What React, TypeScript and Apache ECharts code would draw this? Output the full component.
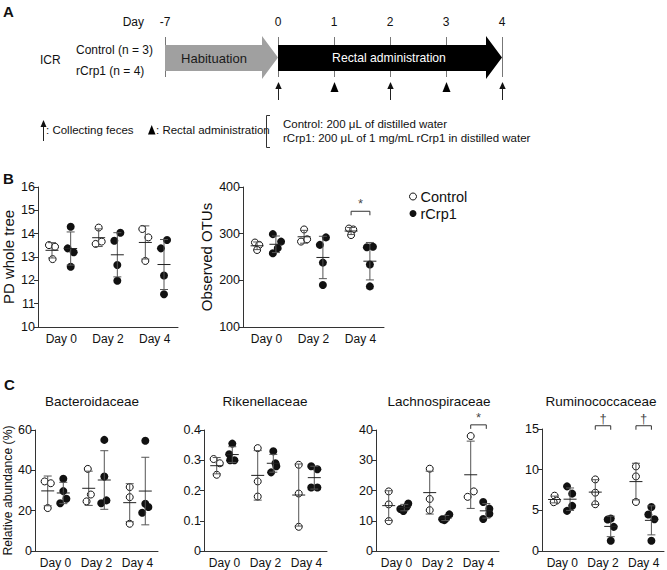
import React, { useEffect, useRef } from "react";
import * as echarts from "echarts";

const FONT = "'Liberation Sans', Arial, sans-serif";
const INK = "#111";
const AXIS = "#333";
const BAR = "#555";

// ---------- data ----------
const DAYS = ["Day 0", "Day 2", "Day 4"];
const GROUPS = ["Control", "rCrp1"];

// Panel B: PD whole tree
const pdControl = [[13.51, 13.44, 12.91], [14.26, 13.56, 13.66], [14.2, 13.84, 12.83]];
const pdRcrp1 = [[14.3, 13.37, 13.2, 12.58], [13.7, 14.04, 12.66, 11.98], [13.37, 13.73, 12.21, 11.4]];
// Panel B: Observed OTUs
const otuControl = [[281, 276, 265], [309, 283, 288], [311, 309, 297]];
const otuRcrp1 = [[299, 283, 269, 258], [292, 276, 238, 190], [271, 272, 234, 187]];
// Panel C
const bacControl = [[34.5, 33.6, 21.3], [40.7, 28.0, 24.6], [31.7, 26.7, 13.5]];
const bacRcrp1 = [[35.8, 29.7, 23.7, 25.9], [55.1, 36.9, 23.7, 25.1], [54.7, 23.4, 21.8, 19.0]];
const rikControl = [[0.304, 0.29, 0.252], [0.34, 0.23, 0.18], [0.285, 0.19, 0.08]];
const rikRcrp1 = [[0.355, 0.32, 0.3, 0.3], [0.33, 0.29, 0.28, 0.26], [0.28, 0.27, 0.21, 0.21]];
const lacControl = [[19.7, 15.4, 9.9], [27.2, 17.2, 13.5], [38.0, 17.9, 19.7]];
const lacRcrp1 = [[13.9, 13.2, 14.6, 15.7], [10.5, 10.2, 10.8, 12.1], [16.2, 14.0, 12.3, 10.6]];
const rumControl = [[6.8, 6.2, 6.0], [8.8, 7.17, 5.75], [10.4, 9.17, 6.03]];
const rumRcrp1 = [[7.95, 7.05, 5.55, 4.93], [3.87, 4.0, 2.97, 1.26], [5.42, 4.48, 3.91, 1.26]];

// horizontal jitter of the individual points (in jitter steps)
const pdJitC = [[-1, 1, 0.2], [0, -1, 1], [-1, 1, 0]];
const pdJitR = [[0, -1, 1, 0], [-1, 1, 0, 0], [-1, 1, 0, 0]];
const otuJitC = [[-0.7, 0.7, 0], [0, -1, 1], [-0.7, 0.7, 0]];
const otuJitR = [[-1, 1.7, 0.6, -1], [1, -1, 0, 0], [-1, 1, 0, 0]];
const bacJitC = [[-1, 1, 0], [-0.3, 0.7, -0.7], [0, 0, 0]];
const bacJitR = [[0, 0, -1, 1], [0, 0, -1, 0.7], [0, 0, 1, -1]];
const rikJitC = [[-1, 1, 0], [0, 0, 0], [0, 0, 0]];
const rikJitR = [[0, -1, -0.7, 0.7], [0, 0.7, 1, -0.7], [-1, 1, -1, 1]];
const lacJitC = [[0, 0, 0], [0, 0, 0], [0, -1, 1]];
const lacJitR = [[-1.3, -0.3, 0.7, 1.3], [-1, -0.3, 0.3, 1.3], [-1, 1, 1, -1]];
const rumJitC = [[0, 0.7, -0.3], [0, 0, 0], [0, 0, 0]];
const rumJitR = [[-1, 0.7, 0.7, -1], [-1, 0, 1, 0], [0, -1, 1, 0]];

// significance marks: [day index, bracket level, symbol]
const otuMarks: [number, number, string][] = [[2, 348, "*"]];
const lacMarks: [number, number, string][] = [[2, 41.7, "*"]];
const rumMarks: [number, number, string][] = [[1, 15.4, "\u2020"], [2, 15.4, "\u2020"]];

// Panel A timeline
const TIMELINE_DAYS = ["-7", "0", "1", "2", "3", "4"];
const COLLECT_DAYS = ["0", "2", "4"];
const ADMIN_DAYS = ["1", "3"];

// ---------- helpers ----------
const mean = (a: number[]) => a.reduce((s, v) => s + v, 0) / a.length;
const sd = (a: number[]) => {
  const m = mean(a);
  return Math.sqrt(a.reduce((s, v) => s + (v - m) * (v - m), 0) / (a.length - 1));
};

type Panel = {
  grid: any;
  yMin: number;
  yMax: number;
  yInterval: number;
  control: number[][];
  rcrp1: number[][];
  jitC: number[][];
  jitR: number[][];
  offset: number;
  jitUnit: number;
  yName?: string;
  nameGap?: number;
  nameSize?: number;
  marks?: [number, number, string][];
};

const panels: Panel[] = [
  { grid: { left: 38, top: 187, width: 140, height: 140 }, yMin: 10, yMax: 16, yInterval: 1, control: pdControl, rcrp1: pdRcrp1, jitC: pdJitC, jitR: pdJitR, offset: 0.2, jitUnit: 0.065, yName: "PD whole tree", nameGap: 22, nameSize: 15 },
  { grid: { left: 243, top: 187, width: 141, height: 140 }, yMin: 100, yMax: 400, yInterval: 100, control: otuControl, rcrp1: otuRcrp1, jitC: otuJitC, jitR: otuJitR, offset: 0.2, jitUnit: 0.065, yName: "Observed OTUs", nameGap: 29, nameSize: 15, marks: otuMarks },
  { grid: { left: 35, top: 430, width: 123, height: 121 }, yMin: 0, yMax: 60, yInterval: 20, control: bacControl, rcrp1: bacRcrp1, jitC: bacJitC, jitR: bacJitR, offset: 0.19, jitUnit: 0.075, yName: "Relative abundance (%)", nameGap: 19, nameSize: 12.2 },
  { grid: { left: 204, top: 430, width: 123, height: 121 }, yMin: 0, yMax: 0.4, yInterval: 0.1, control: rikControl, rcrp1: rikRcrp1, jitC: rikJitC, jitR: rikJitR, offset: 0.19, jitUnit: 0.075 },
  { grid: { left: 376, top: 430, width: 123, height: 121 }, yMin: 0, yMax: 40, yInterval: 10, control: lacControl, rcrp1: lacRcrp1, jitC: lacJitC, jitR: lacJitR, offset: 0.19, jitUnit: 0.075, marks: lacMarks },
  { grid: { left: 542, top: 429, width: 122, height: 122 }, yMin: 0, yMax: 15, yInterval: 5, control: rumControl, rcrp1: rumRcrp1, jitC: rumJitC, jitR: rumJitR, offset: 0.19, jitUnit: 0.075, marks: rumMarks },
];

const C_TITLES = ["Bacteroidaceae", "Rikenellaceae", "Lachnospiraceae", "Ruminococcaceae"];
const C_TITLE_X = [92, 265, 439, 601];

function errorRender(params: any, api: any) {
  const x = api.value(0);
  const m = api.value(1);
  const s = api.value(2);
  const top = api.coord([x, m + s]);
  const bot = api.coord([x, m - s]);
  const mid = api.coord([x, m]);
  const st = { stroke: BAR, lineWidth: 1 };
  return {
    type: "group",
    children: [
      { type: "line", shape: { x1: top[0], y1: top[1], x2: bot[0], y2: bot[1] }, style: st },
      { type: "line", shape: { x1: top[0] - 4, y1: top[1], x2: top[0] + 4, y2: top[1] }, style: st },
      { type: "line", shape: { x1: bot[0] - 4, y1: bot[1], x2: bot[0] + 4, y2: bot[1] }, style: st },
      { type: "line", shape: { x1: mid[0] - 6.5, y1: mid[1], x2: mid[0] + 6.5, y2: mid[1] }, style: { stroke: "#222", lineWidth: 1 } },
    ],
  };
}

function bracketRender(params: any, api: any) {
  const a = api.coord([api.value(0), api.value(2)]);
  const b = api.coord([api.value(1), api.value(2)]);
  return {
    type: "polyline",
    shape: { points: [[a[0], a[1] + 4], [a[0], a[1]], [b[0], b[1]], [b[0], b[1] + 4]] },
    style: { stroke: AXIS, lineWidth: 1, fill: null },
  };
}

function buildOption() {
  const grid: any[] = [];
  const xAxis: any[] = [];
  const yAxis: any[] = [];
  const series: any[] = [];

  panels.forEach((p, gi) => {
    grid.push({ ...p.grid, containLabel: false, outerBoundsMode: "none" });
    xAxis.push({
      type: "value",
      gridIndex: gi,
      min: 0,
      max: 3,
      interval: 0.5,
      axisLine: { show: true, onZero: false, lineStyle: { color: AXIS, width: 1 } },
      axisTick: { show: false },
      splitLine: { show: false },
      axisLabel: {
        margin: 6,
        color: INK,
        fontFamily: FONT,
        fontSize: 12,
        showMinLabel: true,
        showMaxLabel: true,
        formatter: (v: number) => {
          const k = Math.round(v * 2);
          return k % 2 === 1 ? DAYS[(k - 1) / 2] : "";
        },
      },
    });
    yAxis.push({
      type: "value",
      gridIndex: gi,
      min: p.yMin,
      max: p.yMax,
      interval: p.yInterval,
      axisLine: { show: true, onZero: false, lineStyle: { color: AXIS, width: 1 } },
      axisTick: { show: true, length: 4, lineStyle: { color: AXIS, width: 1 } },
      splitLine: { show: false },
      axisLabel: { margin: 3, color: INK, fontFamily: FONT, fontSize: 12.5 },
      name: p.yName || "",
      nameLocation: "middle",
      nameRotate: 90,
      nameGap: p.nameGap || 20,
      nameTextStyle: { color: INK, fontFamily: FONT, fontSize: p.nameSize || 12 },
    });

    const ctrlPts: number[][] = [];
    const rPts: number[][] = [];
    const bars: number[][] = [];
    for (let i = 0; i < 3; i++) {
      const xc = i + 0.5 - p.offset;
      const xr = i + 0.5 + p.offset;
      p.control[i].forEach((v, k) => ctrlPts.push([xc + p.jitC[i][k] * p.jitUnit, v]));
      p.rcrp1[i].forEach((v, k) => rPts.push([xr + p.jitR[i][k] * p.jitUnit, v]));
      bars.push([xc, mean(p.control[i]), sd(p.control[i])]);
      bars.push([xr, mean(p.rcrp1[i]), sd(p.rcrp1[i])]);
    }
    series.push({
      type: "scatter",
      name: GROUPS[0],
      xAxisIndex: gi,
      yAxisIndex: gi,
      data: ctrlPts,
      symbol: "circle",
      symbolSize: 7,
      itemStyle: { color: "#fff", borderColor: INK, borderWidth: 1, opacity: 1 },
      z: 2,
      silent: true,
    });
    series.push({
      type: "scatter",
      name: GROUPS[1],
      xAxisIndex: gi,
      yAxisIndex: gi,
      data: rPts,
      symbol: "circle",
      symbolSize: 8,
      itemStyle: { color: INK, borderWidth: 0, opacity: 1 },
      z: 2,
      silent: true,
    });
    series.push({
      type: "custom",
      xAxisIndex: gi,
      yAxisIndex: gi,
      data: bars,
      encode: { x: 0, y: 1 },
      renderItem: errorRender,
      z: 3,
      silent: true,
    });
    if (p.marks) {
      const marks = p.marks;
      series.push({
        type: "custom",
        xAxisIndex: gi,
        yAxisIndex: gi,
        data: marks.map(([d, lvl]) => [d + 0.5 - p.offset, d + 0.5 + p.offset, lvl]),
        encode: { x: [0, 1], y: 2 },
        clip: false,
        z: 3,
        silent: true,
        itemStyle: { color: INK },
        renderItem: bracketRender,
      });
      series.push({
        type: "scatter",
        xAxisIndex: gi,
        yAxisIndex: gi,
        data: marks.map(([d, lvl, sym]) => ({ value: [d + 0.5, lvl], sym })),
        symbol: "circle",
        symbolSize: 2,
        clip: false,
        silent: true,
        z: 4,
        itemStyle: { color: "rgba(255,255,255,0)", borderWidth: 0 },
        label: {
          show: true,
          position: "top",
          distance: 0,
          color: INK,
          fontFamily: FONT,
          fontSize: 13,
          formatter: (pr: any) => pr.data.sym,
        },
      });
    }
  });

  // ---------- graphic (panel A, panel letters, C titles) ----------
  const els: any[] = [];
  const txt = (text: string, x: number, y: number, o: any = {}) =>
    els.push({
      type: "text",
      x,
      y,
      silent: true,
      style: {
        text,
        fill: o.fill || INK,
        fontFamily: FONT,
        fontSize: o.size || 11.5,
        fontWeight: o.weight || "normal",
        align: o.align || "left",
        verticalAlign: o.va || "middle",
        textAlign: o.align || "left",
        textVerticalAlign: o.va || "middle",
      },
    });
  const line = (x1: number, y1: number, x2: number, y2: number, stroke = INK, lw = 1) =>
    els.push({ type: "line", silent: true, shape: { x1, y1, x2, y2 }, style: { stroke, lineWidth: lw } });
  const poly = (points: number[][], fill: string) =>
    els.push({ type: "polygon", silent: true, shape: { points }, style: { fill } });

  // panel letters
  txt("A", 3, 11, { size: 15, weight: "bold" });
  txt("B", 3, 178, { size: 15, weight: "bold" });
  txt("C", 4, 384, { size: 15, weight: "bold" });

  // timeline layout
  const TLX: Record<string, number> = { "-7": 165, "0": 278, "1": 334, "2": 390, "3": 446, "4": 502 };
  txt("Day", 144, 22, { align: "right", size: 12 });
  TIMELINE_DAYS.forEach((d) => {
    txt(d, TLX[d], 22, { align: "center", size: 12 });
    line(TLX[d] + 0.5, 37, TLX[d] + 0.5, 77, "#777");
  });
  // arrows
  poly([[165, 45], [262, 45], [262, 36], [278, 57.5], [262, 79], [262, 71], [165, 71]], "#a0a0a0");
  poly([[278, 45], [486, 45], [486, 36], [502, 57.5], [486, 79], [486, 71], [278, 71]], "#000");
  txt("Habituation", 214, 58, { align: "center", size: 13, fill: "#1a1a1a" });
  txt("Rectal administration", 389, 58, { align: "center", size: 12.2, fill: "#fff" });
  txt("ICR", 40, 60, { size: 12 });
  txt("Control (n = 3)", 76, 50, { size: 12 });
  txt("rCrp1 (n = 4)", 76, 71, { size: 12 });
  COLLECT_DAYS.forEach((d) => {
    const x = TLX[d] + 0.5;
    line(x, 100, x, 87, "#222");
    poly([[x - 3.2, 89], [x + 3.2, 89], [x, 82]], "#111");
  });
  ADMIN_DAYS.forEach((d) => {
    const x = TLX[d] + 0.5;
    poly([[x - 4, 92], [x + 4, 92], [x, 82]], "#000");
  });
  // key row
  line(43.5, 141, 43.5, 125, "#222");
  poly([[40.5, 127], [46.5, 127], [43.5, 120]], "#111");
  txt(": Collecting feces", 46, 130);
  poly([[148, 134.5], [155.5, 134.5], [151.7, 125]], "#000");
  txt(": Rectal administration", 156, 130);
  els.push({ type: "polyline", silent: true, shape: { points: [[270, 115.5], [266.5, 115.5], [266.5, 147.5], [270, 147.5]] }, style: { stroke: "#333", lineWidth: 1, fill: null } });
  txt("Control: 200 \u03bcL of distilled water", 283, 124);
  txt("rCrp1: 200 \u03bcL of 1 mg/mL rCrp1 in distilled water", 283, 138);

  // C titles
  C_TITLES.forEach((t, i) => txt(t, C_TITLE_X[i], 401, { align: "center", size: 13.5 }));

  return {
    animation: false,
    backgroundColor: "#fff",
    textStyle: { fontFamily: FONT },
    grid,
    xAxis,
    yAxis,
    series,
    legend: {
      data: [
        { name: "Control", icon: "circle", itemStyle: { color: "#fff", borderColor: INK, borderWidth: 1 } },
        { name: "rCrp1", icon: "circle", itemStyle: { color: INK } },
      ],
      orient: "vertical",
      left: 409,
      top: 189,
      itemWidth: 7,
      itemHeight: 7,
      itemGap: 2,
      padding: 0,
      selectedMode: false,
      textStyle: { color: INK, fontFamily: FONT, fontSize: 14.5, padding: [0, 0, 0, -1] },
    },
    graphic: { elements: els },
  };
}

export default function App() {
  const ref = useRef<HTMLDivElement>(null);
  useEffect(() => {
    if (!ref.current) return;
    const chart = echarts.init(ref.current, null, { renderer: "svg" });
    chart.setOption(buildOption() as any);
    return () => chart.dispose();
  }, []);
  return (
    <div
      ref={ref}
      style={{ position: "absolute", left: 0, top: 0, width: 667, height: 570, background: "#fff" }}
    />
  );
}
